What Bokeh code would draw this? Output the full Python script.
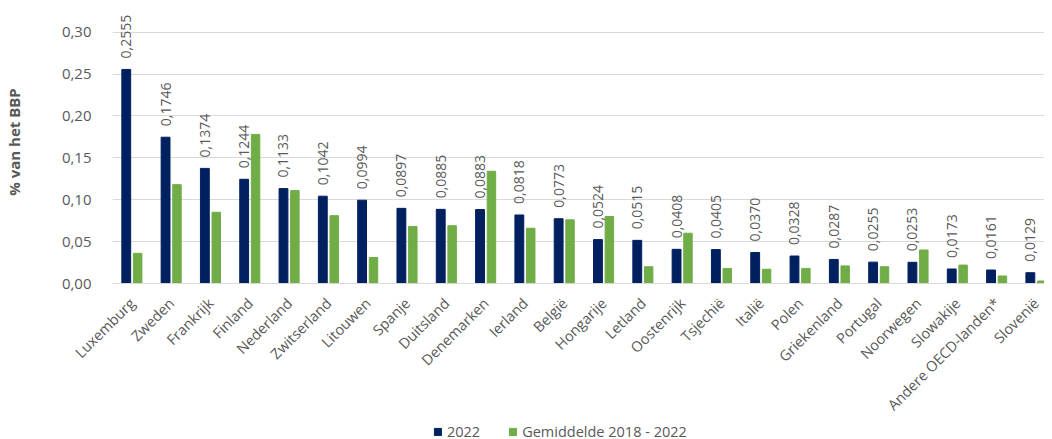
import math
from bokeh.plotting import figure
from bokeh.layouts import column
from bokeh.models import (Range1d, FixedTicker, CustomJSTickFormatter, ColumnDataSource,
                          Legend, LegendItem)
from bokeh.transform import dodge
from bokeh.core.properties import value
from bokeh.embed import file_html
from bokeh.resources import INLINE

countries = ["Luxemburg", "Zweden", "Frankrijk", "Finland", "Nederland", "Zwitserland",
             "Litouwen", "Spanje", "Duitsland", "Denemarken", "Ierland", "België",
             "Hongarije", "Letland", "Oostenrijk", "Tsjechië", "Italië", "Polen",
             "Griekenland", "Portugal", "Noorwegen", "Slowakije", "Andere OECD-landen*",
             "Slovenië"]
val_2022 = [0.2555, 0.1746, 0.1374, 0.1244, 0.1133, 0.1042, 0.0994, 0.0897, 0.0885,
            0.0883, 0.0818, 0.0773, 0.0524, 0.0515, 0.0408, 0.0405, 0.0370, 0.0328,
            0.0287, 0.0255, 0.0253, 0.0173, 0.0161, 0.0129]
val_avg = [0.036, 0.118, 0.085, 0.178, 0.111, 0.081, 0.031, 0.068, 0.069, 0.134,
           0.066, 0.076, 0.080, 0.020, 0.060, 0.018, 0.017, 0.018, 0.021, 0.020,
           0.040, 0.022, 0.009, 0.003]
y_ticks = [0.0, 0.05, 0.10, 0.15, 0.20, 0.25, 0.30]
series_names = ["2022", "Gemiddelde 2018 - 2022"]

n = len(countries)

TEXT = "#595959"
FONT = "Open Sans"
DARK = "#002060"
GREEN = "#70AD47"

src = ColumnDataSource(dict(
    x=list(range(n)),
    v22=val_2022,
    avg=val_avg,
    lbl=[f"{v:.4f}".replace(".", ",") for v in val_2022],
))

p = figure(width=1044, height=423, x_range=Range1d(-0.5, n - 0.5 - 0.29),
           y_range=Range1d(0, 0.3378), output_backend="svg", toolbar_location=None,
           min_border_left=102, min_border_right=0, min_border_top=0, min_border_bottom=140)
p.outline_line_color = None
p.background_fill_color = "white"

r1 = p.vbar(x=dodge("x", -0.15), top="v22", width=0.225, source=src,
            fill_color=DARK, line_color=DARK)
r2 = p.vbar(x=dodge("x", 0.14), top="avg", width=0.215, source=src,
            fill_color=GREEN, line_color=GREEN)
p.text(x=dodge("x", -0.15), y="v22", text="lbl", source=src, angle=math.pi / 2,
       text_align="left", text_baseline="middle", y_offset=-11,
       text_font=value(FONT), text_font_size="14px", text_color=TEXT)

# y axis
p.yaxis.ticker = FixedTicker(ticks=y_ticks)
p.yaxis.formatter = CustomJSTickFormatter(code="return tick.toFixed(2).replace('.', ',');")
p.yaxis.axis_line_color = None
p.yaxis.major_tick_line_color = None
p.yaxis.minor_tick_line_color = None
p.yaxis.major_label_text_font = FONT
p.yaxis.major_label_text_font_size = "15px"
p.yaxis.major_label_text_color = TEXT
p.yaxis.major_label_standoff = 15
p.yaxis.axis_label = "% van het BBP"
p.yaxis.axis_label_text_font = FONT
p.yaxis.axis_label_text_font_size = "15px"
p.yaxis.axis_label_text_font_style = "bold"
p.yaxis.axis_label_text_color = TEXT
p.yaxis.axis_label_standoff = 35
p.ygrid.ticker = FixedTicker(ticks=y_ticks)
p.ygrid.grid_line_color = "#D9D9D9"
p.xgrid.grid_line_color = None

# x axis
p.xaxis.ticker = FixedTicker(ticks=list(range(n)))
p.xaxis.major_label_overrides = {i: c for i, c in enumerate(countries)}
p.xaxis.major_label_orientation = math.pi / 4
p.xaxis.major_label_text_font = FONT
p.xaxis.major_label_text_font_size = "14.5px"
p.xaxis.major_label_text_color = TEXT
p.xaxis.axis_line_color = "#D9D9D9"
p.xaxis.major_tick_line_color = None
p.xaxis.minor_tick_line_color = None
p.xaxis.major_label_standoff = 11

# legend strip below the chart (frame aligned with main chart frame)
lf = figure(width=1044, height=16, x_range=Range1d(0, 1), y_range=Range1d(0, 1),
            output_backend="svg", toolbar_location=None, min_border=0)
lf.axis.visible = False
lf.grid.visible = False
lf.outline_line_color = None
lr1 = lf.vbar(x=[0.5], top=[0.5], width=0.1, fill_color=DARK, line_color=DARK, visible=False)
lr2 = lf.vbar(x=[0.5], top=[0.5], width=0.1, fill_color=GREEN, line_color=GREEN, visible=False)
legend = Legend(items=[LegendItem(label=series_names[0], renderers=[lr1]),
                       LegendItem(label=series_names[1], renderers=[lr2])],
                orientation="horizontal", location=(321, -2),
                glyph_width=9, glyph_height=9, label_text_font=FONT,
                label_text_font_size="14.5px", label_text_color=TEXT,
                spacing=28, border_line_color=None, background_fill_alpha=0,
                padding=0, margin=0, label_standoff=5)
lf.add_layout(legend, "center")

layout = column(p, lf, spacing=0)
open("out.html", "w").write(file_html(layout, INLINE))
